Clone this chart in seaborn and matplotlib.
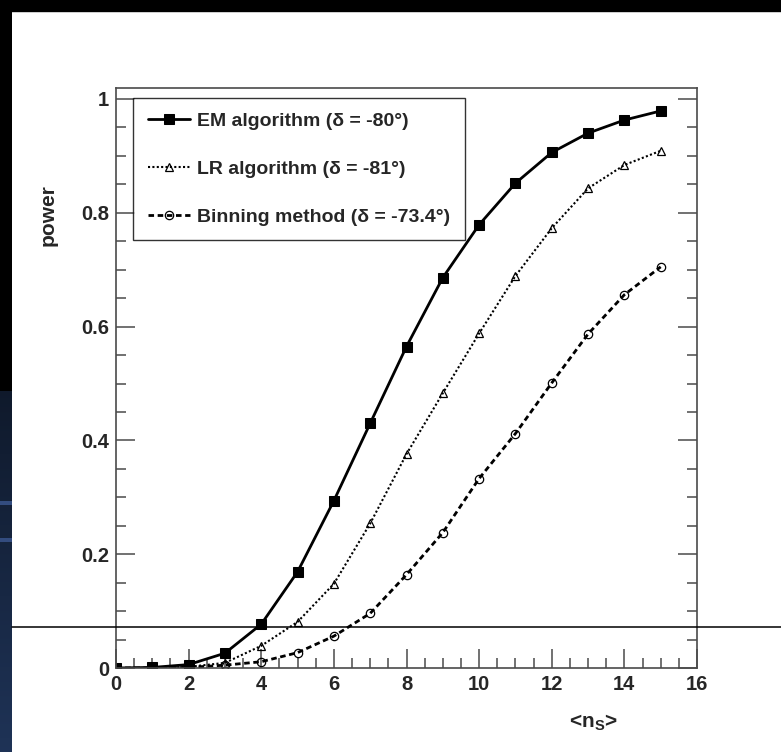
import numpy as np
import pandas as pd
import matplotlib
matplotlib.use("Agg")
import matplotlib.pyplot as plt
import seaborn as sns
from matplotlib.lines import Line2D
from matplotlib.ticker import MultipleLocator

# valores
ns = list(range(16))
em = [0.0, 0.001, 0.006, 0.026, 0.077, 0.169, 0.294, 0.430, 0.565, 0.686,
      0.779, 0.852, 0.906, 0.940, 0.963, 0.979]
lr = [0.0, 0.0, 0.002, 0.009, 0.039, 0.081, 0.148, 0.254, 0.376, 0.483,
      0.588, 0.689, 0.773, 0.843, 0.884, 0.909]
binning = [0.0, 0.0, 0.001, 0.005, 0.011, 0.027, 0.056, 0.096, 0.164, 0.238,
           0.333, 0.412, 0.501, 0.587, 0.656, 0.705]

labels = ["EM algorithm (δ = -80°)", "LR algorithm (δ = -81°)",
          "Binning method (δ = -73.4°)"]
xticks = [0, 2, 4, 6, 8, 10, 12, 14, 16]
yticks = [0, 0.2, 0.4, 0.6, 0.8, 1]
ytick_labels = ["0", "0.2", "0.4", "0.6", "0.8", "1"]

sns.set_style("white")
plt.rcParams["font.family"] = ["Liberation Sans", "DejaVu Sans"]
plt.rcParams["mathtext.fontset"] = "custom"
plt.rcParams["mathtext.rm"] = "Liberation Sans:bold"
plt.rcParams["mathtext.default"] = "rm"

W, H = 781, 752
fig = plt.figure(figsize=(W / 100, H / 100), dpi=100, facecolor="white")

# fondo de la diapositiva: banda negra arriba y franja azul a la izquierda
bg = fig.add_axes([0, 0, 12 / W, 1])
col = np.zeros((H, 1, 3))
yy = np.arange(H)
blue = yy > 390
t = np.clip((yy - 390) / (H - 390), 0, 1)
col[blue, 0, 0] = 0.06 + 0.06 * t[blue]
col[blue, 0, 1] = 0.10 + 0.10 * t[blue]
col[blue, 0, 2] = 0.17 + 0.17 * t[blue]
for s in (503, 540):
    col[s - 2:s + 2, 0, :] = [0.2, 0.3, 0.5]
bg.imshow(col, aspect="auto", extent=[0, 1, 0, 1], origin="upper")
bg.axis("off")
fig.add_artist(plt.Rectangle((0, 1 - 11 / H), 1, 11 / H, transform=fig.transFigure,
                             color="black", zorder=5))

ax = fig.add_axes([116 / W, (H - 668) / H, 581 / W, 580 / H])
ax.set_facecolor("white")

sns.lineplot(x=ns, y=em, ax=ax, color="black", lw=2.0, marker="s", ms=6.5,
             mec="black", label=labels[0])
sns.lineplot(x=ns, y=lr, ax=ax, color="black", lw=1.5, ls=(0, (1, 1.1)),
             marker="^", ms=6, mfc="none", mec="black", mew=0.9, label=labels[1])
sns.lineplot(x=ns, y=binning, ax=ax, color="black", lw=2.0, ls=(0, (2, 1.3)),
             marker="o", ms=6, mfc="none", mec="black", mew=0.9, label=labels[2])

ax.set_xlim(0, 16)
ax.set_ylim(0, 580 / 569)
ax.set_xticks(xticks)
ax.set_yticks(yticks)
ax.set_yticklabels(ytick_labels)
ax.xaxis.set_minor_locator(MultipleLocator(0.5))
ax.yaxis.set_minor_locator(MultipleLocator(0.05))
ax.tick_params(which="both", direction="in", left=True, right=True,
               bottom=True, top=False, color="#4a4a4a", width=1.1)
ax.tick_params(which="major", length=14)
ax.tick_params(which="minor", length=7)
ax.tick_params(axis="both", labelsize=14.5, pad=5)
for lab in ax.get_xticklabels() + ax.get_yticklabels():
    lab.set_fontweight("bold")
for sp in ax.spines.values():
    sp.set_color("#4a4a4a")
    sp.set_linewidth(1.2)
ax.set_xlabel("")
ax.set_ylabel("")

fig.text(48 / W, 1 - 215 / H, "power", rotation=90, ha="center", va="center",
         fontsize=15, fontweight="bold")
fig.text(593 / W, 1 - 723 / H, r"<n$_{\mathrm{S}}$>", ha="center", va="center",
         fontsize=15, fontweight="bold")

leg = ax.legend(loc="upper left", bbox_to_anchor=(17 / 581, 570 / 580),
                borderaxespad=0, frameon=True, fancybox=False,
                handlelength=2.2, handletextpad=0.35, labelspacing=1.55,
                borderpad=0.75, prop={"weight": "bold", "size": 14})
leg.get_frame().set_edgecolor("black")
leg.get_frame().set_linewidth(1.0)

# linea horizontal que cruza la diapositiva
fig.add_artist(Line2D([12 / W, 1], [1 - 627 / H, 1 - 627 / H],
                      transform=fig.transFigure, color="black", lw=1.1, zorder=10))

fig.savefig("out.png", dpi=100, facecolor="white")
